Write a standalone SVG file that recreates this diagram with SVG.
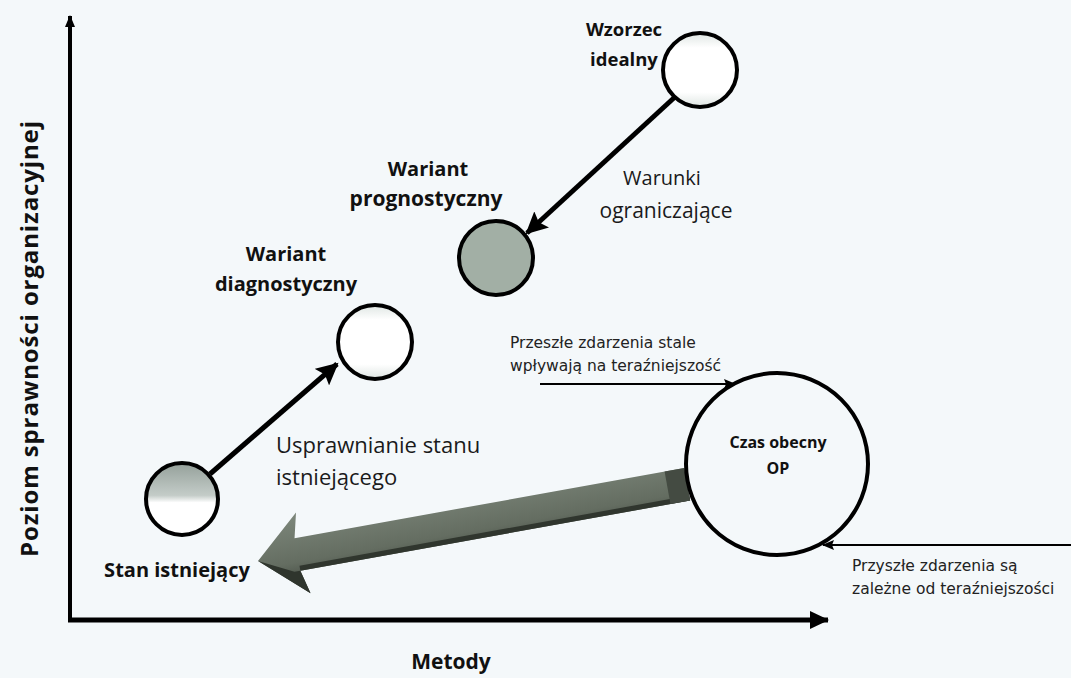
<svg xmlns="http://www.w3.org/2000/svg" width="1071" height="678" viewBox="0 0 1071 678">
<defs>
<style>
.bold{font-family:"Open Sans","Liberation Sans",sans-serif;font-weight:bold;fill:#111}
.reg{font-family:"Open Sans","Liberation Sans",sans-serif;fill:#1a1a1a}
.small{font-family:"DejaVu Sans","Liberation Sans",sans-serif;fill:#222}
.node{stroke:#000;stroke-width:4}
.thick{stroke:#000;stroke-width:5;fill:none}
.thin{stroke:#000;stroke-width:2;fill:none}
</style>
<marker id="headBig" markerUnits="userSpaceOnUse" markerWidth="24" markerHeight="22" refX="20" refY="11" orient="auto">
<path d="M0,0 L22,11 L0,22 L4,11 z" fill="#000"/>
</marker>
<marker id="headAxis" markerUnits="userSpaceOnUse" markerWidth="20" markerHeight="18" refX="18" refY="9" orient="auto">
<path d="M0,0 L19,9 L0,18 z" fill="#000"/>
</marker>
<marker id="headSmallAxis" markerUnits="userSpaceOnUse" markerWidth="12" markerHeight="10" refX="11" refY="5" orient="auto">
<path d="M0,0 L12,5 L0,10 z" fill="#000"/>
</marker>
<marker id="headThin" markerUnits="userSpaceOnUse" markerWidth="12" markerHeight="10" refX="11" refY="5" orient="auto">
<path d="M0,0 L12,5 L0,10 L2,5 z" fill="#000"/>
</marker>
<linearGradient id="gStan" x1="0" y1="0" x2="0" y2="1">
<stop offset="0" stop-color="#94a09a"/>
<stop offset="0.45" stop-color="#c4ccc8"/>
<stop offset="0.55" stop-color="#ffffff"/>
<stop offset="1" stop-color="#ffffff"/>
</linearGradient>
<linearGradient id="gWhite" x1="0" y1="0" x2="0" y2="1">
<stop offset="0" stop-color="#dfe6e3"/>
<stop offset="0.2" stop-color="#ffffff"/>
<stop offset="0.8" stop-color="#ffffff"/>
<stop offset="1" stop-color="#dfe6e3"/>
</linearGradient>
<linearGradient id="gShaft" x1="0" y1="0" x2="0" y2="1">
<stop offset="0" stop-color="#7d877b"/>
<stop offset="0.6" stop-color="#646d61"/>
<stop offset="1" stop-color="#353b33"/>
</linearGradient>
</defs>
<rect width="1071" height="678" fill="#f4f8fa"/>

<g id="axes">
<line x1="70" y1="622" x2="70" y2="16" stroke="#000" stroke-width="4" marker-end="url(#headSmallAxis)"/>
<line x1="68" y1="620" x2="828" y2="620" stroke="#000" stroke-width="5" marker-end="url(#headAxis)"/>
<text class="bold" font-size="24" transform="translate(38,339) rotate(-90)" text-anchor="middle" textLength="436" lengthAdjust="spacing">Poziom sprawności organizacyjnej</text>
<text class="bold" font-size="21" x="451" y="669" text-anchor="middle">Metody</text>
</g>

<g id="connectors">
<line class="thick" x1="210" y1="474" x2="337" y2="364" marker-end="url(#headBig)"/>
<line class="thick" x1="676" y1="96" x2="527" y2="233" marker-end="url(#headBig)"/>
<line class="thin" x1="540" y1="384" x2="735" y2="384" marker-end="url(#headThin)"/>
<line class="thin" x1="1071" y1="545" x2="823" y2="545" marker-end="url(#headThin)"/>
<g id="bigArrow" transform="translate(258,561) rotate(-10.2)">
<polygon points="0,0 46,-41 40,-16 436,-16 436,17 40,17 46,41" fill="url(#gShaft)"/>
<polygon points="40,12 436,12 436,17 40,17" fill="#30362e"/>
<polygon points="0,0 46,41 40,17 34,17" fill="#2f352d"/>
<polygon points="416,-16 436,-16 436,17 416,17" fill="#444b42"/>
</g>
</g>

<g id="node-stan">
<circle class="node" cx="182" cy="499" r="36" fill="url(#gStan)"/>
<text class="bold" font-size="20" x="177" y="577" text-anchor="middle">Stan istniejący</text>
</g>

<g id="node-diagnostyczny">
<circle class="node" cx="375" cy="342" r="37" fill="url(#gWhite)"/>
<text class="bold" font-size="20" x="286" y="261" text-anchor="middle">Wariant</text>
<text class="bold" font-size="20" x="286" y="291" text-anchor="middle">diagnostyczny</text>
</g>

<g id="node-prognostyczny">
<circle class="node" cx="496" cy="258" r="37" fill="#a2afa5"/>
<text class="bold" font-size="20" x="428" y="176" text-anchor="middle">Wariant</text>
<text class="bold" font-size="21" x="426" y="206" text-anchor="middle">prognostyczny</text>
</g>

<g id="node-wzorzec">
<circle class="node" cx="700" cy="70" r="37" fill="url(#gWhite)"/>
<text class="bold" font-size="18.5" x="624" y="36" text-anchor="middle">Wzorzec</text>
<text class="bold" font-size="18.5" x="624" y="66" text-anchor="middle">idealny</text>
</g>

<g id="node-czas">
<circle class="node" cx="777" cy="464" r="91" fill="none" stroke-width="3"/>
<text class="bold" font-size="16" x="778" y="448" text-anchor="middle">Czas obecny</text>
<text class="bold" font-size="16" x="778" y="474" text-anchor="middle">OP</text>
</g>

<g id="labels">
<text class="reg" font-size="20" x="662" y="185" text-anchor="middle">Warunki</text>
<text class="reg" font-size="21" x="666" y="218" text-anchor="middle">ograniczające</text>
<text class="reg" font-size="22" x="276" y="453">Usprawnianie stanu</text>
<text class="reg" font-size="22" x="276" y="485">istniejącego</text>
<text class="small" font-size="15.5" x="510" y="348">Przeszłe zdarzenia stale</text>
<text class="small" font-size="15.5" x="510" y="371">wpływają na teraźniejszość</text>
<text class="small" font-size="15.5" x="852" y="571">Przyszłe zdarzenia są</text>
<text class="small" font-size="15.5" x="852" y="594">zależne od teraźniejszości</text>
</g>
</svg>
